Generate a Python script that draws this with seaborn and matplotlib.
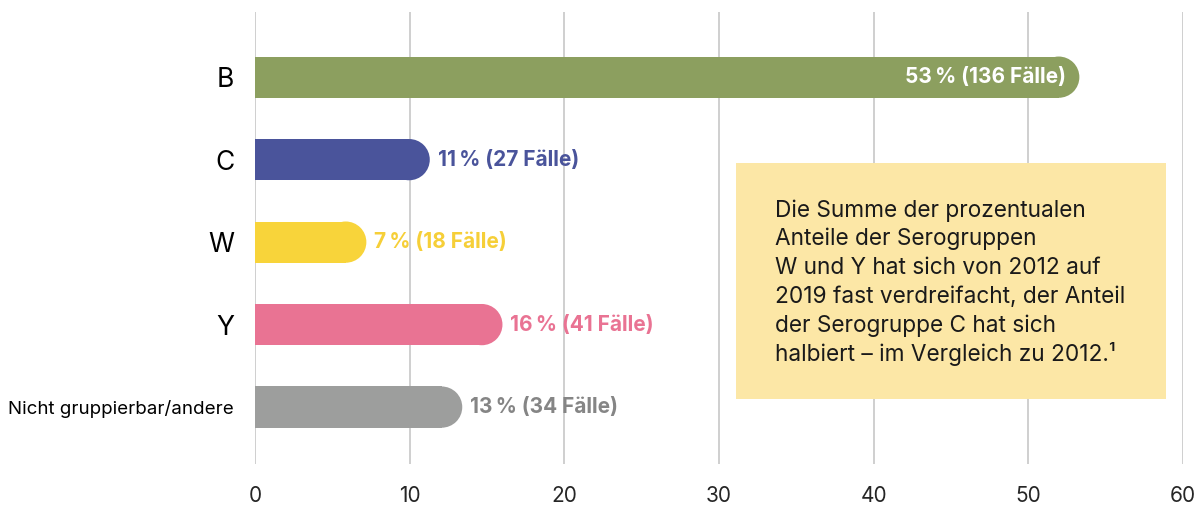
import matplotlib
matplotlib.use('Agg')
import matplotlib.pyplot as plt
from matplotlib.patches import Ellipse, Rectangle
import seaborn as sns

# data
groups = ['B', 'C', 'W', 'Y', 'Nicht gruppierbar/andere']
bar_length = [53.3, 11.3, 7.2, 16.0, 13.4]
share_pct = [53, 11, 7, 16, 13]
cases = [136, 27, 18, 41, 34]
bar_colors = ['#8c9f5f', '#4a549b', '#f8d43a', '#e97393', '#9d9e9d']
label_colors = ['white', '#4a549b', '#f6cf38', '#e97393', '#858585']
x_ticks = [0, 10, 20, 30, 40, 50, 60]
note_lines = ['Die Summe der prozentualen',
              'Anteile der Serogruppen',
              'W und Y hat sich von 2012 auf',
              '2019 fast verdreifacht, der Anteil',
              'der Serogruppe C hat sich',
              'halbiert – im Vergleich zu 2012.¹']

sns.set_style('white')
plt.rcParams['font.family'] = ['Inter', 'DejaVu Sans']

W, H = 12.03, 5.08
fig = plt.figure(figsize=(W, H), dpi=100)
ax_pos = [255 / 1203, 1 - 464 / 508, (1183 - 255) / 1203, (464 - 12) / 508]
ax = fig.add_axes(ax_pos)

bar_h = 0.5
sns.barplot(x=bar_length, y=groups, hue=groups, palette=bar_colors, orient='h',
            width=bar_h, legend=False, saturation=1, linewidth=0,
            edgecolor='none', ax=ax, zorder=3)

xmax = 60
ylim = (4.69, -0.79)
ax.set_xlim(0, xmax)
ax.set_ylim(*ylim)

# rounded right end: shorten the rectangle and add a half-ellipse cap
px_per_x = ax_pos[2] * W * 100 / xmax
px_per_y = ax_pos[3] * H * 100 / (ylim[0] - ylim[1])
r_x = (bar_h * px_per_y / 2) / px_per_x
for p, col in zip(ax.patches, bar_colors):
    v = p.get_width()
    yc = p.get_y() + p.get_height() / 2
    p.set_width(v - r_x)
    ax.add_patch(Ellipse((v - r_x, yc), 2 * r_x, p.get_height(),
                         facecolor=col, edgecolor='none', linewidth=0, zorder=3))

# value labels
for i, (v, pct, n) in enumerate(zip(bar_length, share_pct, cases)):
    txt = f'{pct}\u2009% ({n} Fälle)'
    if i == 0:
        ax.text(v - 0.85, i, txt, ha='right', va='center', color=label_colors[i],
                fontsize=15, fontweight='bold', zorder=4)
    else:
        ax.text(v + 0.5, i, txt, ha='left', va='center', color=label_colors[i],
                fontsize=15, fontweight='bold', zorder=4)

# note box
ax.add_patch(Rectangle((31.1, 1.04), 27.8, 2.86, facecolor='#fce7a6',
                       edgecolor='none', zorder=2))
line_step = 28.8 / px_per_y
first_base = 1.69
for k, line in enumerate(note_lines):
    ax.text(33.6, first_base + k * line_step, line, ha='left', va='baseline',
            fontsize=16.3, color='#1a1a1a', zorder=4)

ax.set_xticks(x_ticks)
ax.set_xticklabels([str(t) for t in x_ticks], fontsize=15)
ax.grid(axis='x', color='#cccccc', linewidth=1.3, zorder=0)
ax.set_axisbelow(True)
ax.tick_params(axis='x', length=0, pad=16)
ax.tick_params(axis='y', length=0, pad=15)
for lab in ax.get_yticklabels():
    lab.set_fontsize(13.5 if len(lab.get_text()) > 2 else 19)
    lab.set_color('black')
sns.despine(ax=ax, left=True, bottom=True)
ax.set_xlabel('')
ax.set_ylabel('')

fig.savefig('out.png', dpi=100)
